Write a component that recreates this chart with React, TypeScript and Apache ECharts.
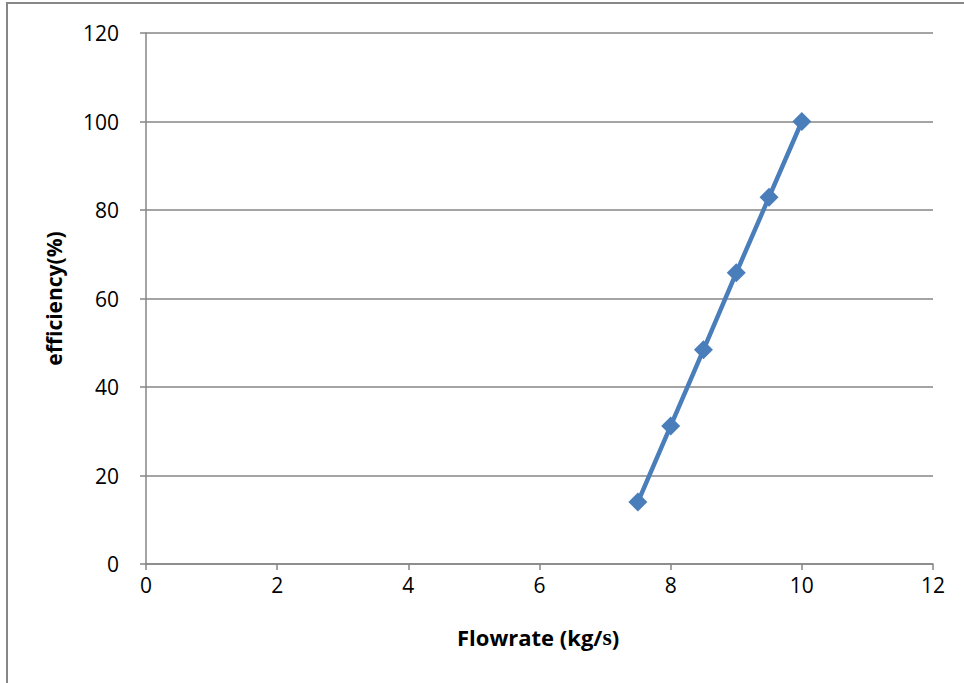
import React, { useEffect, useRef } from "react";
import * as echarts from "echarts";

const flowrate = [7.5, 8, 8.5, 9, 9.5, 10];
const efficiency = [14, 31.2, 48.4, 65.8, 82.9, 100];
const xAxisTitle = "Flowrate (kg/";
const xAxisTitleSerif = "s";
const xAxisTitleEnd = ")";
const yAxisTitle = "efficiency(%)";

export default function App() {
  const ref = useRef<HTMLDivElement>(null);
  useEffect(() => {
    const chart = echarts.init(ref.current!, null, { renderer: "svg" });
    const font = "'Open Sans', 'Liberation Sans', sans-serif";
    chart.setOption({
      animation: false,
      backgroundColor: "#ffffff",
      graphic: [
        {
          type: "rect",
          shape: { x: 7, y: 3, width: 1000, height: 1000 },
          style: { fill: "none", stroke: "#878787", lineWidth: 2 },
          silent: true,
        },
        {
          type: "text",
          left: 457,
          top: 625,
          style: {
            text: "{a|" + xAxisTitle + "}{b|" + xAxisTitleSerif + "}{a|" + xAxisTitleEnd + "}",
            rich: {
              a: { fontFamily: font, fontWeight: "bold", fontSize: 22, fill: "#000" },
              b: { fontFamily: "'Liberation Serif', serif", fontWeight: "bold", fontSize: 24, fill: "#000" },
            },
          },
        },
      ],
      grid: { left: 146, right: 31, top: 33, bottom: 119, containLabel: false },
      xAxis: {
        type: "value",
        min: 0,
        max: 12,
        interval: 2,
        axisLine: { show: true, onZero: false, lineStyle: { color: "#868686", width: 1.5 } },
        axisTick: { show: true, length: 6, lineStyle: { color: "#868686", width: 1.5 } },
        axisLabel: { color: "#000", fontSize: 21, fontFamily: font, margin: 10 },
        splitLine: { show: false },
      },
      yAxis: {
        type: "value",
        min: 0,
        max: 120,
        interval: 20,
        name: yAxisTitle,
        nameLocation: "middle",
        nameGap: 82,
        nameTextStyle: { color: "#000", fontSize: 21, fontWeight: "bold", fontFamily: font },
        axisLine: { show: true, lineStyle: { color: "#868686", width: 1.5 } },
        axisTick: { show: true, length: 6, lineStyle: { color: "#868686", width: 1.5 } },
        axisLabel: { color: "#000", fontSize: 21, fontFamily: font, margin: 27 },
        splitLine: { show: true, lineStyle: { color: "#868686", width: 1.5 } },
      },
      series: [
        {
          type: "line",
          data: flowrate.map((x, i) => [x, efficiency[i]]),
          symbol: "diamond",
          symbolSize: 19,
          itemStyle: { color: "#4a7ebb" },
          lineStyle: { color: "#4a7ebb", width: 4.5 },
        },
      ],
    });
    return () => chart.dispose();
  }, []);
  return (
    <div
      ref={ref}
      style={{ position: "absolute", left: 0, top: 0, width: 964, height: 683 }}
    />
  );
}
